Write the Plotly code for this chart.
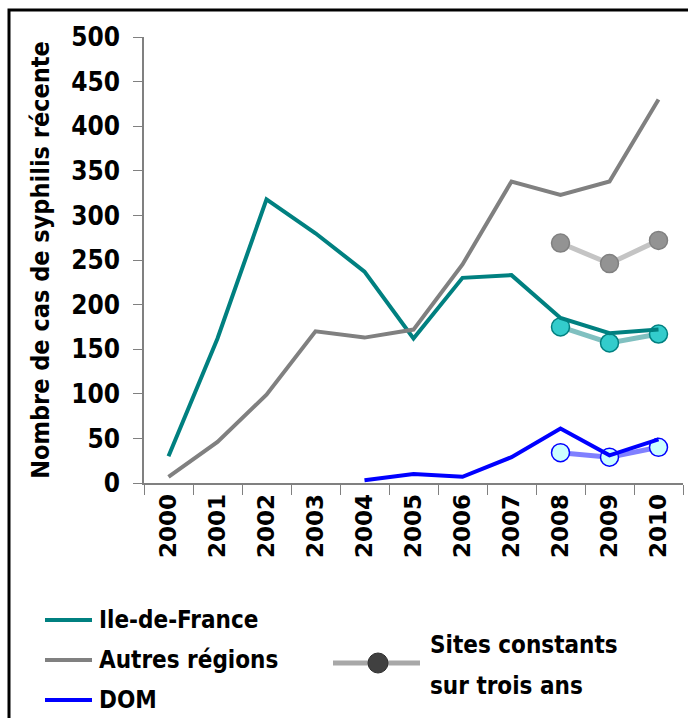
import plotly.graph_objects as go

YEARS = [str(y) for y in range(2000, 2011)]
IDF = [30, 162, 318, 280, 237, 162, 230, 233, 185, 168, 172]
AUTRES = [7, 46, 99, 170, 163, 172, 245, 338, 323, 338, 430]
DOM_YEARS = YEARS[4:]
DOM = [3, 10, 7, 29, 61, 31, 49]

# sites constants sur trois ans (2008-2010)
SITE_YEARS = ["2008", "2009", "2010"]
SITE_AUTRES = [269, 246, 272]
SITE_IDF = [175, 157, 167]
SITE_DOM = [34, 29, 40]

BOLD = "DejaVu Sans Condensed"

fig = go.Figure()

# constant-site series first so the main lines sit on top
for ys, line_col, fill, edge in [
    (SITE_AUTRES, "#c4c4c4", "#939393", "#808080"),
    (SITE_IDF, "#80c0c0", "#33cccc", "#008080"),
    (SITE_DOM, "#8080ff", "#ccffff", "#0000ff"),
]:
    fig.add_scatter(x=SITE_YEARS, y=ys, mode="lines+markers", showlegend=False,
                    line=dict(color=line_col, width=5),
                    marker=dict(size=18, color=fill, line=dict(color=edge, width=1.5)))

for xs, ys, col in [(YEARS, IDF, "#008080"), (YEARS, AUTRES, "#808080"),
                    (DOM_YEARS, DOM, "#0000ff")]:
    fig.add_scatter(x=xs, y=ys, mode="lines", showlegend=False,
                    line=dict(color=col, width=4))

# hand-made legend below the axis (paper coords: x 144..683 px, y 483..37 px)
def px(x):
    return (x - 144) / 539


def py(y):
    return (483 - y) / 446


for y, col, label in [(620, "#008080", "Ile-de-France"), (660, "#808080", "Autres régions"),
                      (700, "#0000ff", "DOM")]:
    fig.add_shape(type="line", xref="paper", yref="paper", x0=px(45), x1=px(92),
                  y0=py(y), y1=py(y), line=dict(color=col, width=4))
    fig.add_annotation(xref="paper", yref="paper", x=px(97), y=py(y), text=label,
                       showarrow=False, xanchor="left", yanchor="middle",
                       font=dict(family=BOLD, size=24, color="black", weight="bold"))

fig.add_shape(type="line", xref="paper", yref="paper", x0=px(333), x1=px(420),
              y0=py(663), y1=py(663), line=dict(color="#a8a8a8", width=5))
fig.add_shape(type="circle", xref="paper", yref="paper", x0=px(368), x1=px(388),
              y0=py(673), y1=py(653), fillcolor="#404040", line=dict(color="#303030", width=1))
for y, label in [(645, "Sites constants"), (686, "sur trois ans")]:
    fig.add_annotation(xref="paper", yref="paper", x=px(428), y=py(y), text=label,
                       showarrow=False, xanchor="left", yanchor="middle",
                       font=dict(family=BOLD, size=24, color="black", weight="bold"))

# outer frame
fig.add_shape(type="rect", xref="paper", yref="paper", x0=px(9), x1=px(700),
              y0=py(740), y1=py(10), line=dict(color="black", width=3))

fig.update_layout(
    width=688, height=718, margin=dict(l=144, r=5, t=37, b=235),
    plot_bgcolor="white", paper_bgcolor="white",
    xaxis=dict(type="category", categoryorder="array", categoryarray=YEARS,
               range=[-0.5, 10.5], showline=True, linecolor="#808080", linewidth=1.5,
               ticks="outside", tickson="boundaries", ticklen=10, tickcolor="#808080",
               tickangle=-90, showgrid=False,
               tickfont=dict(family="DejaVu Sans", size=23, color="black", weight="bold")),
    yaxis=dict(range=[0, 500], dtick=50, showline=True, linecolor="#808080", linewidth=1.5,
               ticks="outside", ticklen=9, tickcolor="#808080", showgrid=False, zeroline=False,
               ticklabelstandoff=8,
               tickfont=dict(family=BOLD, size=26, color="black", weight="bold"),
               title=dict(text="Nombre de cas de syphilis récente", standoff=14,
                          font=dict(family=BOLD, size=25, color="black", weight="bold"))),
)

fig.write_html("out.html", config={"displayModeBar": False},
               post_script="document.body.style.margin='0';")
